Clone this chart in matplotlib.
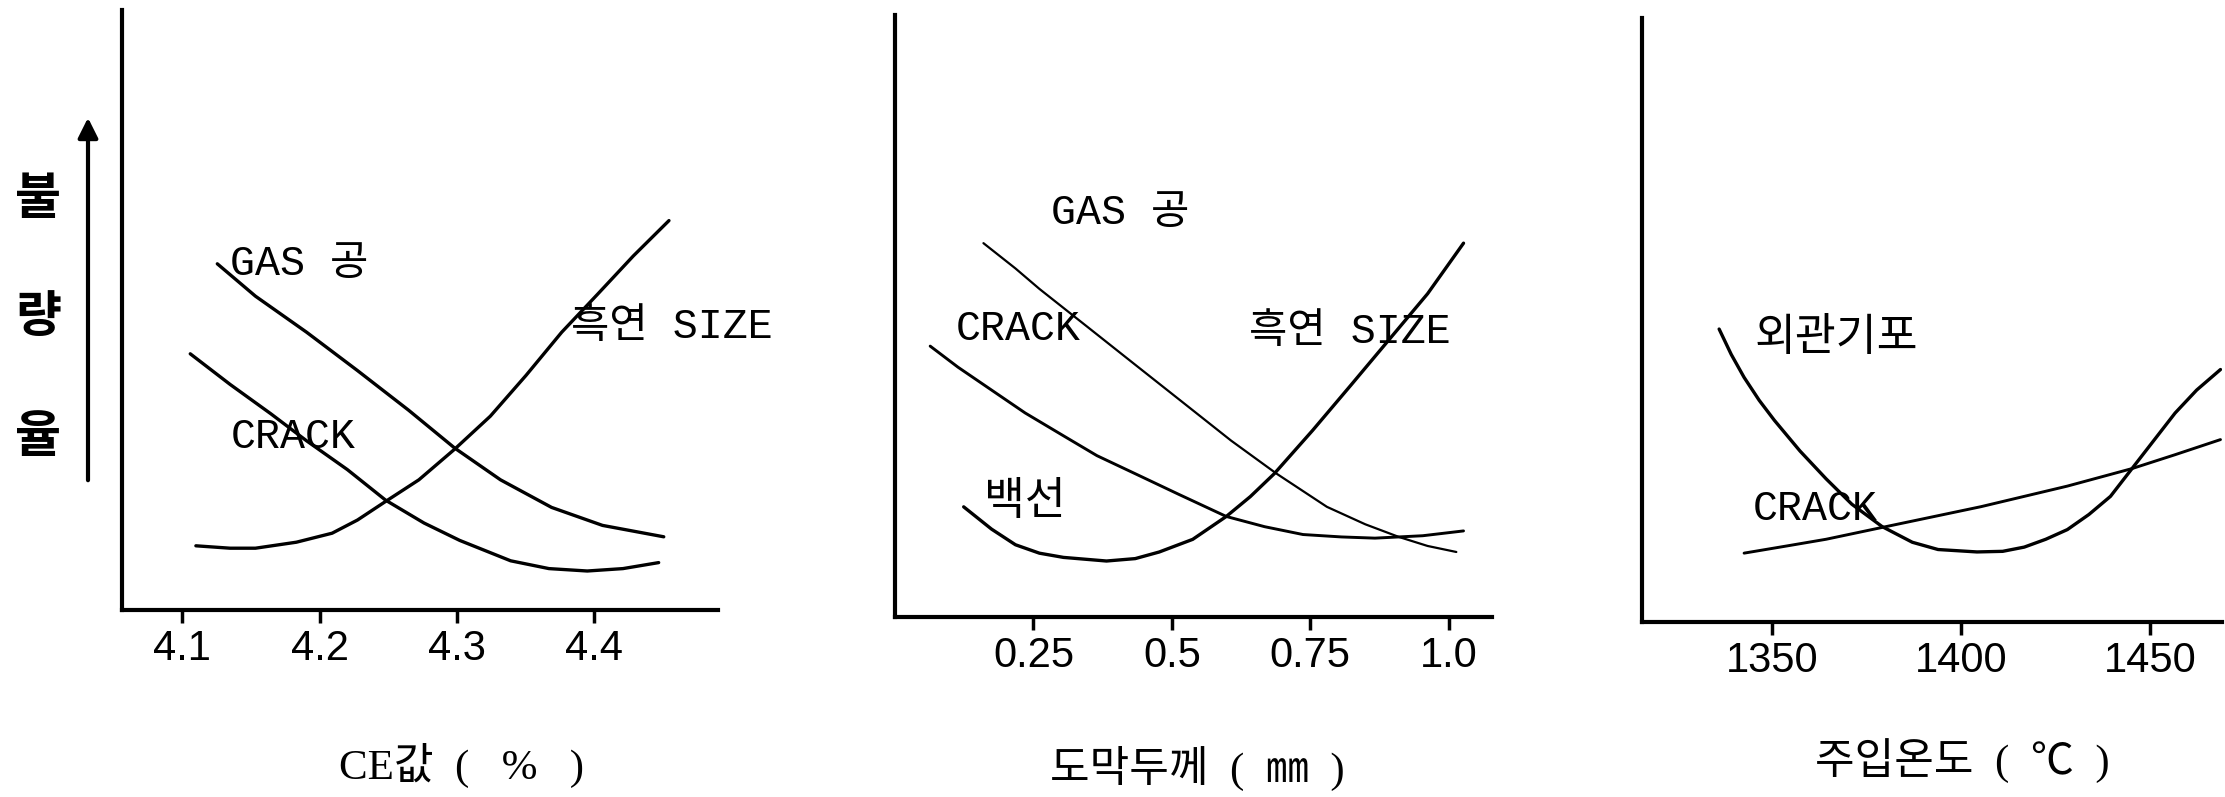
import matplotlib
matplotlib.use("Agg")
import matplotlib.pyplot as plt
from matplotlib.patches import FancyArrowPatch

plt.rcParams['font.family'] = ['Liberation Sans', 'Noto Sans CJK KR']

# 1) CE값
ce_gas_x = [4.1254, 4.1532, 4.1904, 4.2275, 4.2647, 4.2982, 4.3316, 4.3688, 4.4059, 4.4505]
ce_gas_y = [57.7, 52.3, 46.3, 39.9, 33.3, 27.0, 21.7, 17.1, 14.1, 12.2]
ce_crack_x = [4.1057, 4.1347, 4.1644, 4.1904, 4.2201, 4.2480, 4.2759, 4.3019, 4.3390,
              4.3669, 4.3948, 4.4208, 4.4468]
ce_crack_y = [42.7, 37.6, 32.7, 28.2, 23.4, 18.3, 14.5, 11.6, 8.2, 6.9, 6.5, 6.9, 7.9]
ce_size_x = [4.1098, 4.1347, 4.1532, 4.1830, 4.2090, 4.2275, 4.2480, 4.2722, 4.2982,
             4.3242, 4.3502, 4.3762, 4.4022, 4.4283, 4.4543]
ce_size_y = [10.7, 10.3, 10.3, 11.3, 12.8, 15.0, 18.1, 21.7, 26.8, 32.3, 39.1, 46.3,
             52.6, 59.0, 64.9]
ce_ticks = [4.1, 4.2, 4.3, 4.4]
ce_ticklabels = ["4.1", "4.2", "4.3", "4.4"]

# 2) 도막두께
th_gas_x = [0.1597, 0.2175, 0.2608, 0.3474, 0.4338, 0.5204, 0.6069, 0.6892, 0.7799,
            0.8492, 0.9098, 0.9617, 1.0136]
th_gas_y = [62.1, 57.9, 54.5, 48.2, 41.9, 35.6, 29.3, 23.8, 18.3, 15.4, 13.3, 11.8, 10.8]
th_crack_x = [0.0635, 0.1137, 0.1743, 0.2349, 0.3042, 0.3647, 0.4338, 0.5118, 0.5982,
              0.6675, 0.7367, 0.8060, 0.8666, 0.9530, 1.0266]
th_crack_y = [45.0, 41.5, 37.7, 33.9, 30.1, 26.8, 23.8, 20.4, 16.7, 15.0, 13.7, 13.3,
              13.1, 13.5, 14.3]
th_baek_x = [0.1240, 0.1743, 0.2175, 0.2608, 0.3042, 0.3819, 0.4338, 0.4772, 0.5376,
             0.5982, 0.6416, 0.6848, 0.7541, 0.8231, 0.8924, 0.9617, 1.0266]
th_baek_y = [18.3, 14.6, 12.0, 10.6, 9.9, 9.3, 9.7, 10.8, 12.9, 16.7, 20.0, 23.8, 31.0,
             38.5, 46.1, 53.7, 62.1]
th_ticks = [0.25, 0.5, 0.75, 1.0]
th_ticklabels = ["0.25", "0.5", "0.75", "1.0"]

# 3) 주입온도
tp_gipo_x = [1336.0, 1339.2, 1342.6, 1346.6, 1350.6, 1357.4, 1364.3, 1371.1, 1379.1,
             1387.1, 1393.9, 1404.2, 1411.0, 1416.7, 1422.4, 1428.1, 1433.8, 1439.5,
             1445.2, 1450.9, 1456.6, 1462.3, 1468.6]
tp_gipo_y = [48.5, 44.3, 40.5, 36.7, 33.4, 28.3, 23.7, 19.5, 15.8, 13.2, 12.0, 11.6,
             11.7, 12.4, 13.7, 15.3, 17.8, 20.8, 25.4, 30.0, 34.6, 38.4, 41.8]
tp_crack_x = [1342.6, 1354.0, 1364.3, 1380.2, 1393.9, 1405.3, 1416.7, 1428.1, 1445.2,
              1456.6, 1468.6]
tp_crack_y = [11.4, 12.6, 13.7, 15.8, 17.6, 19.1, 20.8, 22.5, 25.4, 27.7, 30.2]
tp_ticks = [1350, 1400, 1450]
tp_ticklabels = ["1350", "1400", "1450"]

W, H = 2225, 797
fig = plt.figure(figsize=(W / 100, H / 100), dpi=100)


def px_axes(l, r, t, b):
    return fig.add_axes([l / W, 1 - b / H, (r - l) / W, (b - t) / H])


def style(ax, xlim, ticks, labels):
    ax.set_xlim(*xlim)
    ax.set_ylim(0, 100)
    for s in ["top", "right"]:
        ax.spines[s].set_visible(False)
    for s in ["left", "bottom"]:
        ax.spines[s].set_linewidth(3)
    ax.set_yticks([])
    ax.set_xticks(ticks)
    ax.set_xticklabels(labels, fontsize=30)
    ax.tick_params(axis="x", direction="out", length=9, width=2.5, pad=5)


def curve(ax, x, y, lw=2.4):
    ax.plot(x, y, color="black", lw=lw, solid_joinstyle="round",
            solid_capstyle="round")


lab = dict(fontsize=30, va="center", ha="left",
           family=["Liberation Mono", "Noto Sans CJK KR"])
klab = dict(fontsize=32, va="center", ha="left", family=["Noto Sans CJK KR"])

ax1 = px_axes(122, 718, 10, 610)
style(ax1, (4.056, 4.490), ce_ticks, ce_ticklabels)
curve(ax1, ce_gas_x, ce_gas_y)
curve(ax1, ce_crack_x, ce_crack_y)
curve(ax1, ce_size_x, ce_size_y)
ax1.text(4.135, 57.7, "GAS 공", **lab)
ax1.text(4.383, 47.2, "흑연 SIZE", **lab)
ax1.text(4.135, 28.9, "CRACK", **lab)

ax2 = px_axes(895, 1492, 15, 617)
style(ax2, (0.0, 1.078), th_ticks, th_ticklabels)
curve(ax2, th_gas_x, th_gas_y, lw=1.6)
curve(ax2, th_crack_x, th_crack_y, lw=2.1)
curve(ax2, th_baek_x, th_baek_y)
ax2.text(0.282, 67.1, "GAS 공", **lab)
ax2.text(0.109, 47.8, "CRACK", **lab)
ax2.text(0.640, 47.4, "흑연 SIZE", **lab)
ax2.text(0.161, 19.2, "백선", **klab)

ax3 = px_axes(1642, 2222, 18, 622)
style(ax3, (1315.6, 1469.0), tp_ticks, tp_ticklabels)
curve(ax3, tp_gipo_x, tp_gipo_y)
curve(ax3, tp_crack_x, tp_crack_y, lw=2.1)
ax3.text(1345.4, 47.2, "외관기포", **klab)
ax3.text(1344.9, 18.7, "CRACK", **lab)

xl = dict(fontsize=31, ha="center", va="center",
          family=["Liberation Serif", "Noto Sans CJK KR"])
fig.text(461 / W, 1 - 765 / H, "CE값  (   %   )", **xl)
fig.text(1197 / W, 1 - 768 / H, "도막두께  (  ㎜  )", **xl)
fig.text(1962 / W, 1 - 761 / H, "주입온도  (  ℃  )", **xl)

# 세로 축 이름과 화살표
for ch, yy in zip(["불", "량", "율"], [200, 318, 438]):
    fig.text(38 / W, 1 - yy / H, ch, fontsize=36, ha="center", va="center",
             family=["Noto Sans CJK KR"], weight="bold")
fig.add_artist(FancyArrowPatch(
    (88 / W, 1 - 483 / H), (88 / W, 1 - 115 / H), transform=fig.transFigure,
    arrowstyle="-|>", mutation_scale=30, lw=3, color="black"))

fig.savefig("out.png", dpi=100)
